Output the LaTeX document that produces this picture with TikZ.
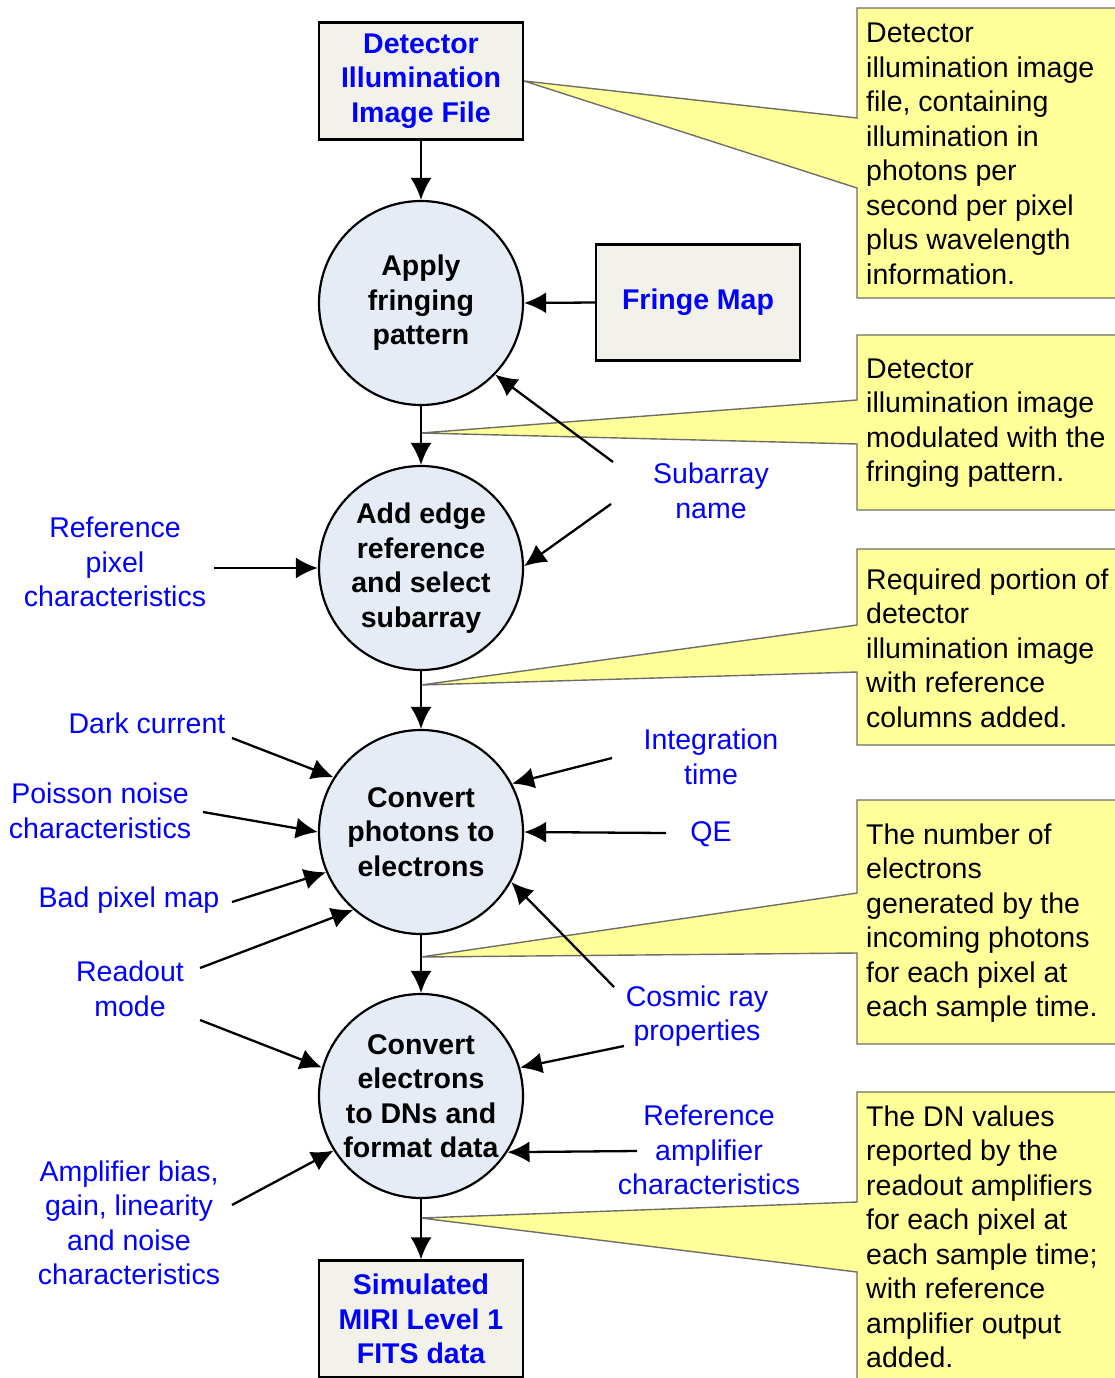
\documentclass[tikz,border=0pt]{standalone}
\usepackage{fontspec}
\setmainfont{Liberation Sans}
\usetikzlibrary{arrows.meta}
\definecolor{circfill}{HTML}{E6ECF6}
\definecolor{boxfill}{HTML}{F2F2EA}
\definecolor{callfill}{HTML}{FFFF99}
\definecolor{callline}{HTML}{6E6E66}
\definecolor{lblue}{HTML}{0000FF}
\newcommand\basefont{\fontsize{28.5}{34.5}\selectfont}
\begin{document}
\begin{tikzpicture}[x=1pt,y=-1pt,
  every node/.style={inner sep=0pt},
  proc/.style={circle,draw=black,line width=2.2pt,fill=circfill,minimum size=204pt,align=center,font=\basefont\bfseries},
  filebox/.style={rectangle,draw=black,line width=2.2pt,fill=boxfill,minimum width=204pt,minimum height=117pt,align=center,font=\basefont\bfseries,text=lblue},
  lbl/.style={align=center,font=\basefont,text=lblue},
  calltext/.style={align=left,anchor=west,font=\basefont,text=black},
  callout/.style={fill=callfill,draw=callline,line width=1.4pt,line join=miter},
  arr/.style={-{Latex[length=22pt,width=21pt]},line width=2.3pt}]
\useasboundingbox (0,0) rectangle (1114,1378);

% main chain
\node[filebox] (top) at (421,81) {Detector\\Illumination\\Image File};
\node[proc] (c1) at (421,303) {Apply\\fringing\\pattern};
\node[filebox,minimum height=116pt] (fm) at (698,302.5) {Fringe Map};
\node[proc] (c2) at (421,568) {Add edge\\reference\\and select\\subarray};
\node[proc] (c3) at (421,832) {Convert\\photons to\\electrons};
\node[proc] (c4) at (421,1096) {Convert\\electrons\\to DNs and\\format data};
\node[filebox] (bot) at (421,1319) {Simulated\\MIRI Level 1\\FITS data};

% callout apex points
\coordinate (p2) at (421,433);
\coordinate (p3) at (421,685);
\coordinate (p4) at (421,957);
\coordinate (p5) at (421,1218);

% callouts
\draw[callout] (857,8) -- (1120,8) -- (1120,298) -- (857,298) -- (857,188) -- (top.east) -- (857,118) -- cycle;
\draw[callout] (857,335) -- (1120,335) -- (1120,510) -- (857,510) -- (857,444) -- (p2) -- (857,400) -- cycle;
\draw[callout] (857,549) -- (1120,549) -- (1120,745) -- (857,745) -- (857,672) -- (p3) -- (857,625) -- cycle;
\draw[callout] (857,800) -- (1120,800) -- (1120,1044) -- (857,1044) -- (857,953) -- (p4) -- (857,893) -- cycle;
\draw[callout] (857,1092) -- (1120,1092) -- (1120,1390) -- (857,1390) -- (857,1272) -- (p5) -- (857,1202) -- cycle;

\node[calltext] (t1) at (866,154) {Detector\\illumination image\\file, containing\\illumination in\\photons per\\second per pixel\\plus wavelength\\information.};
\node[calltext] (t2) at (866,423) {Detector\\illumination image\\modulated with the\\fringing pattern.};
\node[calltext] (t3) at (866,648) {Required portion of\\detector\\illumination image\\with reference\\columns added.};
\node[calltext] (t4) at (866,923) {The number of\\electrons\\generated by the\\incoming photons\\for each pixel at\\each sample time.};
\node[calltext] (t5) at (866,1237) {The DN values\\reported by the\\readout amplifiers\\for each pixel at\\each sample time;\\with reference\\amplifier output\\added.};

% input labels
\node[lbl] (refpix) at (115,562) {Reference\\pixel\\characteristics};
\node[lbl] (dark) at (147,723) {Dark current};
\node[lbl] (poisson) at (100,811) {Poisson noise\\characteristics};
\node[lbl] (badpix) at (129,900) {Bad pixel map};
\node[lbl] (readout) at (130,989) {Readout\\mode};
\node[lbl] (ampbias) at (129,1223) {Amplifier bias,\\gain, linearity\\and noise\\characteristics};
\node[lbl] (subarr) at (711,491) {Subarray\\name};
\node[lbl] (integ) at (711,757) {Integration\\time};
\node[lbl] (qe) at (711,834) {QE};
\node[lbl] (cosmic) at (697,1016) {Cosmic ray\\properties};
\node[lbl] (refamp) at (709,1150) {Reference\\amplifier\\characteristics};

% arrow start points
\coordinate (s-sub1) at (613,462);
\coordinate (s-sub2) at (611,504);
\coordinate (s-refpix) at (214,568);
\coordinate (s-dark) at (232,738);
\coordinate (s-poisson) at (203,812);
\coordinate (s-bad) at (232,902);
\coordinate (s-read1) at (200,968);
\coordinate (s-read2) at (200,1020);
\coordinate (s-amp) at (232,1205);
\coordinate (s-integ) at (612,758);
\coordinate (s-qe) at (666,833);
\coordinate (s-cos1) at (614,987);
\coordinate (s-cos2) at (624,1046);
\coordinate (s-refamp) at (637,1151);

% main flow
\draw[arr] (top.south) -- (c1.north);
\draw[arr] (c1.south) -- (c2.north);
\draw[arr] (c2.south) -- (c3.north);
\draw[arr] (c3.south) -- (c4.north);
\draw[arr] (c4.south) -- (bot.north);
\draw[arr] (fm.west) -- (c1.east);

% inputs
\draw[arr] (s-sub1) -- (c1.-44);
\draw[arr] (s-sub2) -- (c2.1);
\draw[arr] (s-refpix) -- (c2.west);
\draw[arr] (s-dark) -- (c3.148);
\draw[arr] (s-poisson) -- (c3.west);
\draw[arr] (s-bad) -- (c3.203);
\draw[arr] (s-read1) -- (c3.229);
\draw[arr] (s-integ) -- (c3.28);
\draw[arr] (s-qe) -- (c3.east);
\draw[arr] (s-cos1) -- (c3.-29);
\draw[arr] (s-read2) -- (c4.164);
\draw[arr] (s-amp) -- (c4.212);
\draw[arr] (s-cos2) -- (c4.16);
\draw[arr] (s-refamp) -- (c4.-33);
\end{tikzpicture}
\end{document}
